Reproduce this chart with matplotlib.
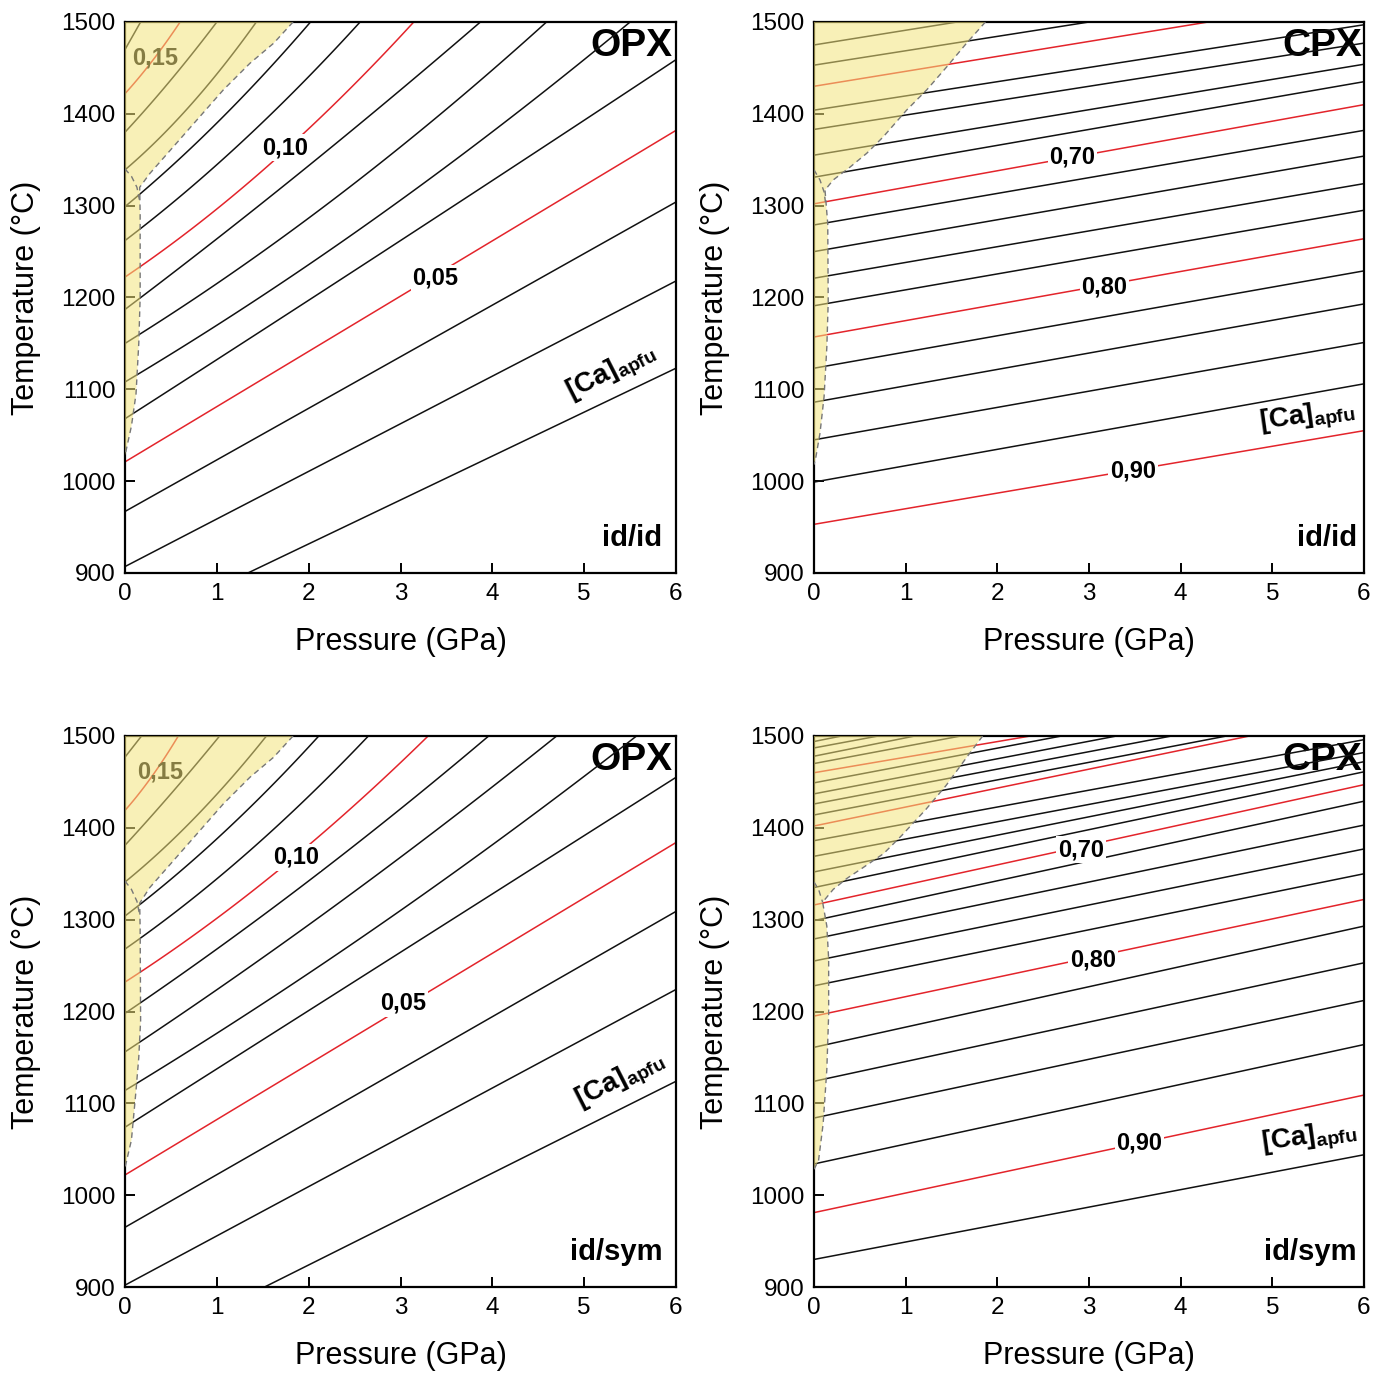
import numpy as np
import matplotlib
matplotlib.use("Agg")
import matplotlib.pyplot as plt

plt.rcParams['font.family'] = ['Liberation Sans', 'DejaVu Sans']
plt.rcParams['mathtext.fontset'] = 'custom'
plt.rcParams['mathtext.rm'] = 'Liberation Sans:bold'
plt.rcParams['mathtext.it'] = 'Liberation Sans:bold'
plt.rcParams['mathtext.bf'] = 'Liberation Sans:bold'

# ---------------- OPX, id/id ----------------
OPX_IDID_LEVELS = [0.02, 0.03, 0.04, 0.05, 0.06, 0.07, 0.08, 0.09, 0.10, 0.11, 0.12, 0.13, 0.14, 0.15, 0.16]
OPX_IDID_P = [[0, 6], [0, 6], [0, 6], [0, 6], [0, 3, 6], [0, 3, 5.5], [0, 3, 4.59], [0, 3, 3.87],
              [0, 1.58, 2.0, 3.14], [0, 1.3, 2.56], [0, 1.0, 2.02], [0, 0.7, 1.43], [0, 0.5, 1.0],
              [0, 0.3, 0.6], [0, 0.17]]
OPX_IDID_T = [[836, 1123], [907, 1218], [967, 1304], [1021, 1382], [1068, 1262, 1459], [1108, 1306, 1500],
              [1150, 1364, 1500], [1187, 1426, 1500], [1222, 1348, 1381, 1500], [1262, 1372, 1500],
              [1299, 1390, 1500], [1339, 1408, 1500], [1380, 1437, 1500], [1422, 1458, 1500], [1470, 1500]]
OPX_IDID_FIELD_P = [0, 1.83, 1.62, 1.36, 1.07, 0.78, 0.49, 0.27, 0.16, 0.165, 0.165, 0.15, 0.12, 0.07, 0]
OPX_IDID_FIELD_T = [1500, 1500, 1477, 1455, 1426, 1393, 1360, 1335, 1320, 1290, 1200, 1150, 1095, 1060, 1028]
OPX_IDID_INNER_P = [0, 0.07, 0.13, 0.16]
OPX_IDID_INNER_T = [1340, 1332, 1320, 1305]

# ---------------- OPX, id/sym ----------------
OPX_IDSYM_LEVELS = [0.02, 0.03, 0.04, 0.05, 0.06, 0.07, 0.08, 0.09, 0.10, 0.11, 0.12, 0.13, 0.14, 0.15, 0.16]
OPX_IDSYM_P = [[0, 6], [0, 6], [0, 6], [0, 6], [0, 6], [0, 3, 5.57], [0, 3, 4.70], [0, 1.6, 3.96],
               [0, 1.62, 2.05, 3.30], [0, 1.3, 2.65], [0, 1.0, 2.11], [0, 0.75, 1.54], [0, 0.5, 1.03],
               [0, 0.3, 0.58], [0, 0.18]]
OPX_IDSYM_T = [[824, 1124], [902, 1224], [965, 1309], [1022, 1384], [1074, 1455], [1114, 1310, 1500],
               [1156, 1368, 1500], [1198, 1312, 1500], [1232, 1350, 1385, 1500], [1268, 1370, 1500],
               [1304, 1388, 1500], [1341, 1410, 1500], [1381, 1437, 1500], [1419, 1457, 1500], [1477, 1500]]
OPX_IDSYM_FIELD_P = [0, 1.83, 1.62, 1.36, 1.07, 0.78, 0.49, 0.27, 0.16, 0.165, 0.17, 0.15, 0.12, 0.07, 0]
OPX_IDSYM_FIELD_T = [1500, 1500, 1477, 1455, 1426, 1393, 1360, 1335, 1318, 1290, 1190, 1150, 1114, 1060, 1030]
OPX_IDSYM_INNER_P = [0, 0.07, 0.13, 0.16]
OPX_IDSYM_INNER_T = [1342, 1333, 1320, 1305]

# ---------------- CPX, id/id ----------------
CPX_IDID_LEVELS = [0.56, 0.58, 0.60, 0.62, 0.64, 0.66, 0.68, 0.70, 0.72, 0.74, 0.76, 0.78,
                   0.80, 0.82, 0.84, 0.86, 0.88, 0.90]
CPX_IDID_T0 = [1475, 1453, 1430, 1404, 1383, 1355, 1331, 1302, 1279, 1250, 1221, 1191,
               1157, 1123, 1086, 1045, 999, 953]
CPX_IDID_PEND = [1.56, 3.0, 4.3, 6, 6, 6, 6, 6, 6, 6, 6, 6, 6, 6, 6, 6, 6, 6]
CPX_IDID_TEND = [1500, 1500, 1500, 1497, 1477, 1454, 1435, 1410, 1382, 1354, 1324, 1295,
                 1264, 1229, 1193, 1151, 1106, 1055]
CPX_IDID_FIELD_P = [0, 1.87, 1.665, 1.447, 1.229, 1.01, 0.756, 0.575, 0.393, 0.21, 0.12, 0.15, 0.155,
                    0.14, 0.11, 0.065, 0.02, 0]
CPX_IDID_FIELD_T = [1500, 1500, 1477, 1451, 1426, 1404, 1375, 1357, 1342, 1328, 1317, 1280, 1195,
                    1146, 1092, 1052, 1026, 1018]
CPX_IDID_INNER_P = [0, 0.065, 0.11, 0.13]
CPX_IDID_INNER_T = [1339, 1328, 1315, 1300]

# ---------------- CPX, id/sym ----------------
CPX_IDSYM_LEVELS = [0.42, 0.44, 0.46, 0.48, 0.50, 0.52, 0.54, 0.56, 0.58, 0.60, 0.62, 0.64, 0.66,
                    0.68, 0.70, 0.72, 0.74, 0.76, 0.78, 0.80, 0.82, 0.84, 0.86, 0.88, 0.90, 0.92]
CPX_IDSYM_T0 = [1494, 1487, 1478, 1470, 1460, 1449, 1437, 1426, 1414, 1402, 1386, 1369, 1352,
                1335, 1316, 1299, 1279, 1255, 1228, 1195, 1161, 1124, 1084, 1034, 981, 930]
CPX_IDSYM_PEND = [0.3, 0.7, 1.1, 1.6, 2.36, 2.7, 3.3, 3.9, 4.5, 4.75, 6, 6, 6, 6, 6, 6, 6, 6, 6,
                  6, 6, 6, 6, 6, 6, 6]
CPX_IDSYM_TEND = [1500, 1500, 1500, 1500, 1500, 1500, 1500, 1500, 1500, 1500, 1496, 1482, 1472,
                  1461, 1447, 1429, 1403, 1377, 1350, 1322, 1293, 1253, 1212, 1164, 1109, 1044]
CPX_IDSYM_FIELD_P = [0, 1.84, 1.66, 1.44, 1.22, 0.96, 0.76, 0.54, 0.36, 0.21, 0.094, 0.14, 0.16,
                     0.16, 0.14, 0.10, 0.05, 0.01, 0]
CPX_IDSYM_FIELD_T = [1500, 1500, 1476, 1446, 1420, 1392, 1372, 1357, 1345, 1333, 1319, 1293, 1257,
                     1197, 1137, 1078, 1038, 1030, 1028]
CPX_IDSYM_INNER_P = [0, 0.05, 0.094]
CPX_IDSYM_INNER_T = [1341, 1333, 1319]

P_TICKS = [0, 1, 2, 3, 4, 5, 6]
T_TICKS = [900, 1000, 1100, 1200, 1300, 1400, 1500]

RED = '#e3242b'
BLACK = '#111111'
YELLOW = '#f3e47c'

fig = plt.figure(figsize=(13.85, 13.74), dpi=100)
W, H = 1385.0, 1374.0
boxes = [(125, 22, 551, 551), (814, 22, 550, 551), (125, 736, 551, 551), (814, 736, 550, 551)]
axes = [fig.add_axes([x / W, 1 - (y + h) / H, w / W, h / H]) for x, y, w, h in boxes]

label_bbox = dict(boxstyle='square,pad=0.08', fc='white', ec='none')


def setup(ax):
    ax.set_xlim(0, 6)
    ax.set_ylim(900, 1500)
    ax.set_xticks(P_TICKS)
    ax.set_yticks(T_TICKS)
    ax.tick_params(direction='in', length=7, width=1.4, labelsize=17.5, pad=7)
    for s in ax.spines.values():
        s.set_linewidth(1.6)
    ax.set_xlabel('Pressure (GPa)', fontsize=22, labelpad=16)
    ax.set_ylabel('Temperature (°C)', fontsize=22, labelpad=14)


def curve(p, t):
    """Smooth curve through the read-off nodes of one isopleth."""
    p = np.asarray(p, float)
    t = np.asarray(t, float)
    if len(p) == 2:
        return p, t
    c = np.polyfit(p, t, 2)
    pp = np.linspace(p[0], p[-1], 80)
    return pp, np.polyval(c, pp)


def draw_field(ax, fp, ft, ip, it):
    ax.fill(fp, ft, color=YELLOW, alpha=0.55, lw=0, zorder=4)
    ax.plot(fp[1:], ft[1:], ls=(0, (4, 3)), color='#777777', lw=1.0, zorder=5)
    ax.plot(ip, it, ls=(0, (4, 3)), color='#777777', lw=1.0, zorder=5)


def draw_opx(ax, levels, Ps, Ts, field, inner, labels, model):
    setup(ax)
    for lev, p, t in zip(levels, Ps, Ts):
        red = round(lev * 100) % 5 == 0
        pp, tt = curve(p, t)
        ax.plot(pp, tt, color=RED if red else BLACK, lw=1.1, zorder=2)
    draw_field(ax, field[0], field[1], inner[0], inner[1])
    for txt, p, t in labels:
        ax.text(p, t, txt, fontsize=17, fontweight='bold', ha='center', va='center',
                zorder=3, bbox=label_bbox)
    ax.text(5.96, 1474, 'OPX', fontsize=28, fontweight='bold', ha='right', va='center', zorder=1)
    ax.text(5.85, 938, model, fontsize=21, fontweight='bold', ha='right', va='center', zorder=3)


def draw_cpx(ax, levels, T0, Pend, Tend, field, inner, labels, model):
    setup(ax)
    for lev, t0, p1, t1 in zip(levels, T0, Pend, Tend):
        red = round(lev * 100) % 10 == 0
        ax.plot([0, p1], [t0, t1], color=RED if red else BLACK, lw=1.1, zorder=2)
    draw_field(ax, field[0], field[1], inner[0], inner[1])
    for txt, p, t in labels:
        ax.text(p, t, txt, fontsize=17, fontweight='bold', ha='center', va='center',
                zorder=3, bbox=label_bbox)
    ax.text(5.98, 1474, 'CPX', fontsize=28, fontweight='bold', ha='right', va='center', zorder=1)
    ax.text(5.92, 938, model, fontsize=21, fontweight='bold', ha='right', va='center', zorder=3)


ca = r'[Ca]$_{\mathrm{apfu}}$'

# top-left
ax = axes[0]
draw_opx(ax, OPX_IDID_LEVELS, OPX_IDID_P, OPX_IDID_T, (OPX_IDID_FIELD_P, OPX_IDID_FIELD_T),
         (OPX_IDID_INNER_P, OPX_IDID_INNER_T), [('0,10', 1.74, 1363), ('0,05', 3.38, 1221)], 'id/id')
ax.text(0.33, 1461, '0,15', fontsize=17, fontweight='bold', ha='center', va='center', zorder=3)
ax.text(5.3, 1118, ca, fontsize=20, fontweight='bold', ha='center', va='center', rotation=27, zorder=3)

# bottom-left
ax = axes[2]
draw_opx(ax, OPX_IDSYM_LEVELS, OPX_IDSYM_P, OPX_IDSYM_T, (OPX_IDSYM_FIELD_P, OPX_IDSYM_FIELD_T),
         (OPX_IDSYM_INNER_P, OPX_IDSYM_INNER_T), [('0,10', 1.86, 1368), ('0,05', 3.03, 1209)], 'id/sym')
ax.text(0.38, 1461, '0,15', fontsize=17, fontweight='bold', ha='center', va='center', zorder=3)
ax.text(5.4, 1124, ca, fontsize=20, fontweight='bold', ha='center', va='center', rotation=27, zorder=3)

# top-right
ax = axes[1]
draw_cpx(ax, CPX_IDID_LEVELS, CPX_IDID_T0, CPX_IDID_PEND, CPX_IDID_TEND,
         (CPX_IDID_FIELD_P, CPX_IDID_FIELD_T), (CPX_IDID_INNER_P, CPX_IDID_INNER_T),
         [('0,70', 2.82, 1353), ('0,80', 3.17, 1211), ('0,90', 3.48, 1011)], 'id/id')
ax.text(5.38, 1069, ca, fontsize=20, fontweight='bold', ha='center', va='center', rotation=8, zorder=3)

# bottom-right
ax = axes[3]
draw_cpx(ax, CPX_IDSYM_LEVELS, CPX_IDSYM_T0, CPX_IDSYM_PEND, CPX_IDSYM_TEND,
         (CPX_IDSYM_FIELD_P, CPX_IDSYM_FIELD_T), (CPX_IDSYM_INNER_P, CPX_IDSYM_INNER_T),
         [('0,70', 2.91, 1376), ('0,80', 3.04, 1256), ('0,90', 3.55, 1057)], 'id/sym')
ax.text(5.4, 1062, ca, fontsize=20, fontweight='bold', ha='center', va='center', rotation=8, zorder=3)

fig.savefig('out.png', dpi=100)
